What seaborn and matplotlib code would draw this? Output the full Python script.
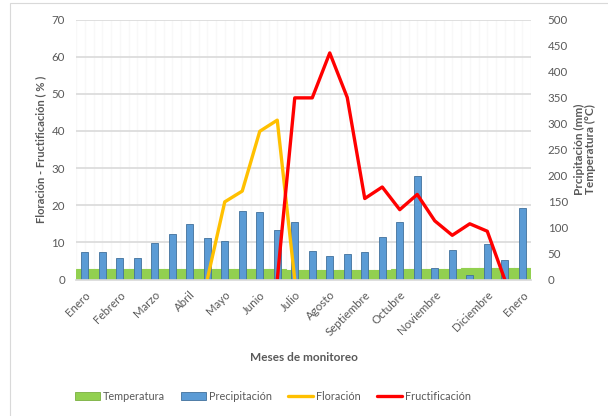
import numpy as np
import pandas as pd
import seaborn as sns
import matplotlib.pyplot as plt
from matplotlib.patches import Rectangle, Patch
from matplotlib.lines import Line2D

# Monitoring periods (two per month) and their axis labels
etiquetas = ["Enero", "", "Febrero", "", "Marzo", "", "Abril", "", "Mayo", "",
             "Junio", "", "Julio", "", "Agosto", "", "Septiembre", "", "Octubre", "",
             "Noviembre", "", "", "Diciembre", "", "Enero"]

# Precipitation (mm) and temperature (°C) per period
precipitacion = [52, 52, 42, 42, 70, 88, 106, 79, 74, 132, 129, 95, 111,
                 55, 46, 49, 53, 81, 111, 199, 23, 56, 8, 69, 37, 138]
temperatura = [21, 21, 21, 21, 21, 21, 21, 21, 20, 20, 20, 20, 19,
               19, 19, 19, 19, 19, 20, 21, 21, 21, 22, 22, 22, 22]

# Flowering and fruiting (%) per period
nan = np.nan
floracion = [nan] * 7 + [0, 20.9, 23.8, 39.9, 42.9, 0] + [nan] * 13
fructificacion = [nan] * 11 + [0, 48.9, 48.9, 61, 49, 21.8, 24.9, 18.8, 22.9,
                               15.8, 11.9, 15.0, 13.0, 0, nan]

n = len(etiquetas)
df = pd.DataFrame({
    "periodo": list(range(n)),
    "precipitacion": precipitacion,
    "temperatura": temperatura,
    "floracion": floracion,
    "fructificacion": fructificacion,
})

sns.set_theme(style="white")
plt.rcParams["font.family"] = ["Lato", "DejaVu Sans"]
gris = "#595959"
verde = "#92d050"

fig = plt.figure(figsize=(6.08, 4.16), dpi=100)
ax = fig.add_axes([76 / 608, 1 - 279.5 / 416, 455 / 608, 260 / 416])
ax2 = ax.twinx()

# Lines on the left axis drawn above the bars on the right axis
ax.set_zorder(ax2.get_zorder() + 1)
ax.patch.set_visible(False)

# Patterned plot background, painted by the axes patch itself
ax2.patch.set_facecolor("#eaeaea")
ax2.patch.set_edgecolor("#ffffff")
ax2.patch.set_linewidth(0)
ax2.patch.set_hatch("\\\\\\\\")

ymax_r = 500
ymax_l = 70

# Temperature as a continuous band (edges in the fill colour close the seams)
sns.barplot(data=df, x="periodo", y="temperatura", ax=ax2, width=1.0,
            color=verde, edgecolor=verde, linewidth=0.8, saturation=1,
            order=list(range(n)))
sns.barplot(data=df, x="periodo", y="precipitacion", ax=ax2, width=0.42,
            color="#5b9bd5", edgecolor="#41719c", linewidth=0.6, saturation=1,
            order=list(range(n)))

# Bars above the background texture and grid
for i, cont in enumerate(ax2.containers):
    for bar in cont:
        bar.set_zorder(3 + i)

for k in range(2 * n + 1):
    ax2.axvline(k / 2 - 0.5, color="#f8f8f8", lw=1.0, zorder=0.2)
for k in range(1, 8):
    ax2.axhline(k * 10 * ymax_r / ymax_l, color="#d9d9d9", lw=1.2, zorder=0.5)

sns.lineplot(data=df, x="periodo", y="floracion", ax=ax, color="#ffc000", lw=2.4)
sns.lineplot(data=df, x="periodo", y="fructificacion", ax=ax, color="#ff0000", lw=2.4)

ax.set_xlim(-0.5, n - 0.5)
ax.set_ylim(0, ymax_l)
ax2.set_ylim(0, ymax_r)
ax.set_yticks(range(0, 71, 10))
ax2.set_yticks(range(0, 501, 50))
ax.set_xticks(range(n))
ax.set_xticklabels(etiquetas, rotation=45, ha="right", rotation_mode="anchor")
ax2.set_xlabel("")
ax2.set_ylabel("")

ax.tick_params(axis="both", length=0, labelsize=8.3, labelcolor=gris)
ax.tick_params(axis="x", pad=7)
ax.tick_params(axis="y", pad=8)
ax2.tick_params(axis="y", length=0, labelsize=8.3, labelcolor=gris, pad=12)
ax2.tick_params(axis="x", length=0, labelbottom=False)

for a in (ax, ax2):
    for s in a.spines.values():
        s.set_visible(False)
ax.spines["bottom"].set_visible(True)
ax.spines["bottom"].set_color("#d9d9d9")

ax.set_xlabel("Meses de monitoreo", fontsize=8.5, fontweight="bold", color=gris, labelpad=10)
ax.set_ylabel("Floración - Fructificación ( % )", fontsize=8, fontweight="bold",
              color=gris, labelpad=4)
ax2.set_ylabel("Prcipitación (mm)\nTemperatura (°C)", fontsize=8.5, fontweight="bold",
               color=gris, labelpad=4, linespacing=1.1)

handles = [
    Patch(facecolor=verde, edgecolor="#7ab03f", lw=0.6),
    Patch(facecolor="#5b9bd5", edgecolor="#41719c", lw=0.6),
    Line2D([], [], color="#ffc000", lw=2.4),
    Line2D([], [], color="#ff0000", lw=2.4),
]
fig.legend(handles, ["Temperatura", "Precipitación", "Floración", "Fructificación"],
           loc="center", bbox_to_anchor=(0.449, 0.048), ncol=4, frameon=False,
           fontsize=7.8, labelcolor=gris, handlelength=2.3, handleheight=0.7,
           handletextpad=0.25, columnspacing=1.5)

# Outer chart frame
fig.add_artist(Rectangle((10 / 608, -0.01), 1.0, 1 - 3 / 416 + 0.01,
                         transform=fig.transFigure, fill=False,
                         edgecolor="#d9d9d9", lw=0.8))

fig.savefig("out.png", dpi=100)
